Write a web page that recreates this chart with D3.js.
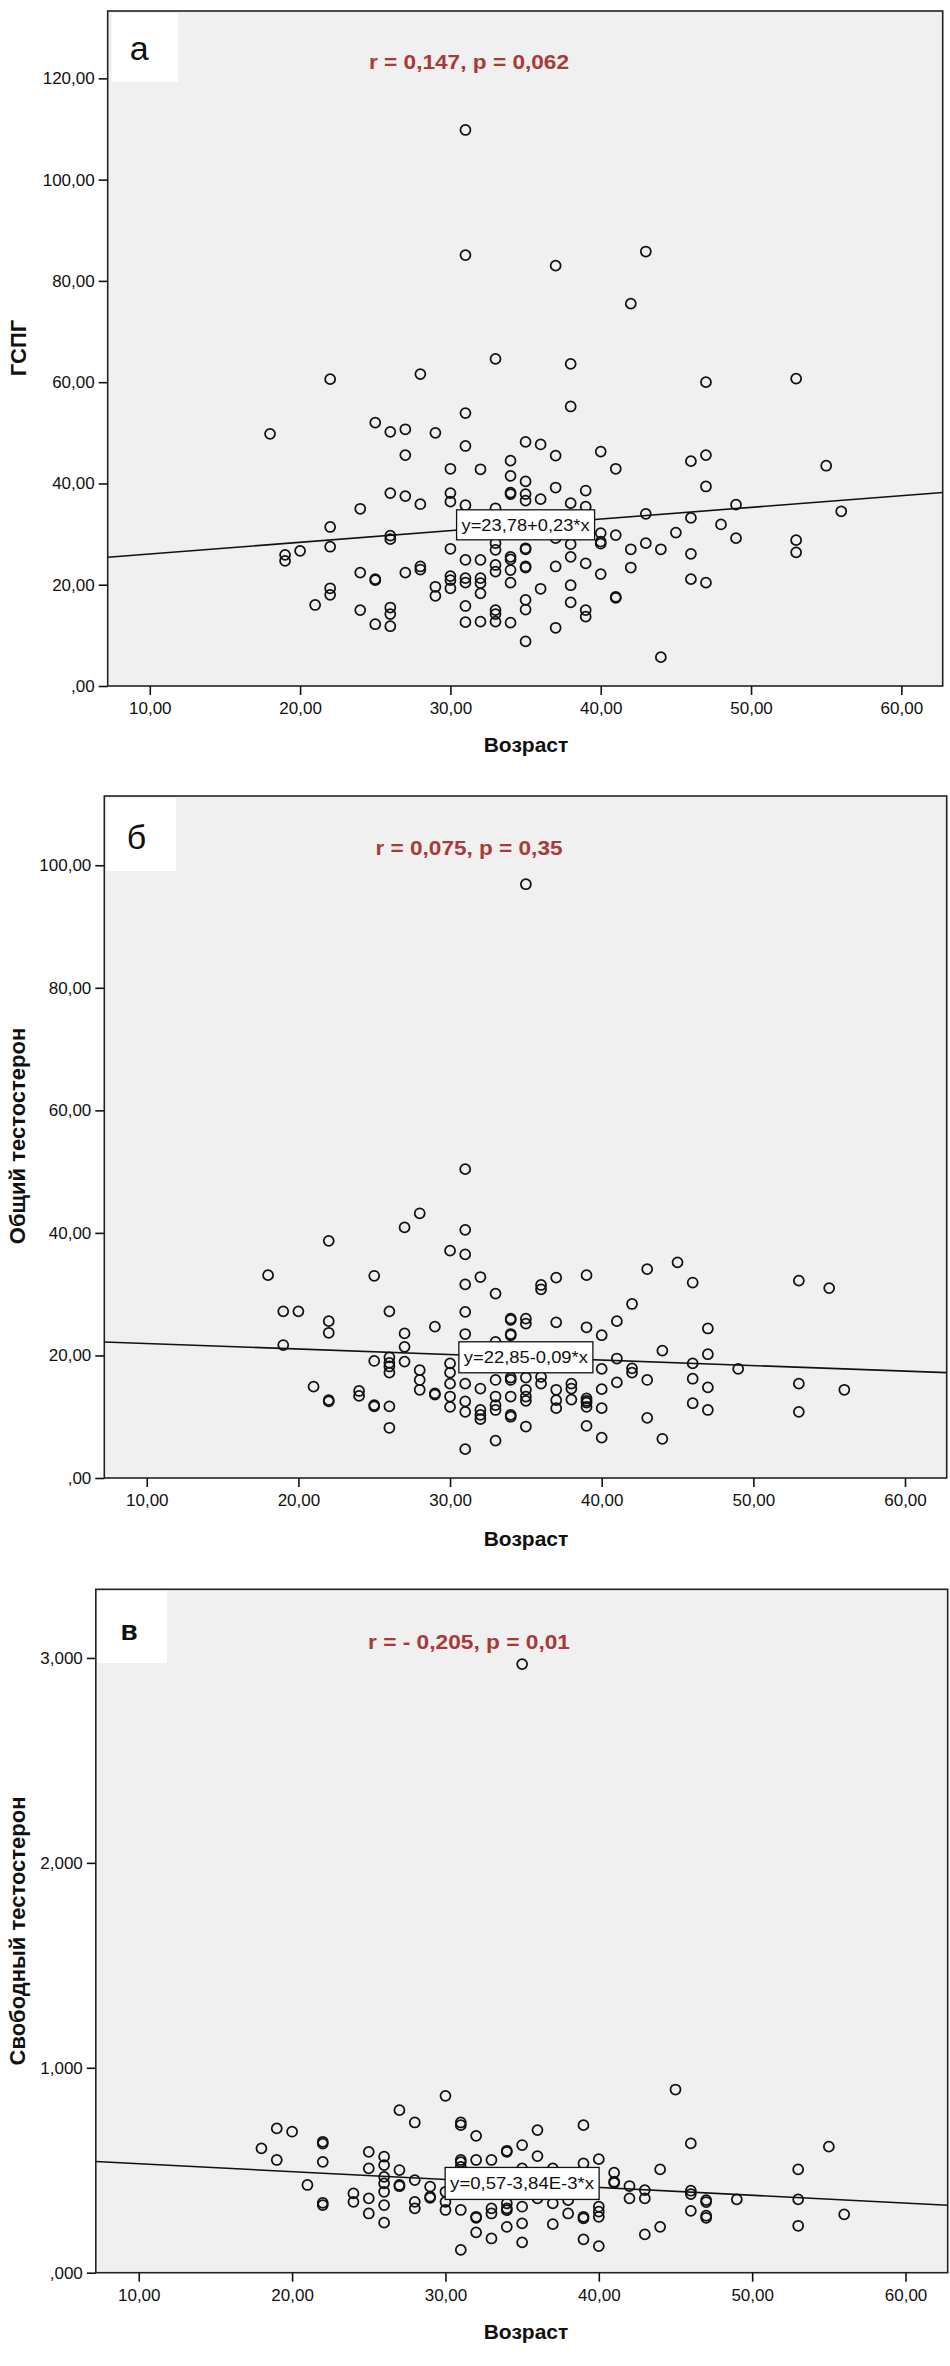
<!DOCTYPE html>
<html><head><meta charset="utf-8">
<script src="https://cdn.jsdelivr.net/npm/d3@7"></script>
<style>body{margin:0;background:#fff}svg{display:block}</style>
</head><body>
<svg id="c" width="950" height="2366"></svg>
<script>
// ---------- data ----------
const xTicks = [10, 20, 30, 40, 50, 60];
const xTickLabels = ["10,00", "20,00", "30,00", "40,00", "50,00", "60,00"];
const xTitle = "Возраст";

const yTicksA = [0, 20, 40, 60, 80, 100, 120];
const yTickLabelsA = [",00", "20,00", "40,00", "60,00", "80,00", "100,00", "120,00"];
const yTicksB = [0, 20, 40, 60, 80, 100];
const yTickLabelsB = [",00", "20,00", "40,00", "60,00", "80,00", "100,00"];
const yTicksC = [0, 1, 2, 3];
const yTickLabelsC = [",000", "1,000", "2,000", "3,000"];

const panelLetters = ["а", "б", "в"];
const yTitles = ["ГСПГ", "Общий тестостерон", "Свободный тестостерон"];
const corrTexts = ["r = 0,147, p = 0,062", "r = 0,075, p = 0,35", "r = - 0,205, p = 0,01"];
const eqTexts = ["y=23,78+0,23*x", "y=22,85-0,09*x", "y=0,57-3,84E-3*x"];
const intercepts = [23.78, 22.85, 0.57];
const slopes = [0.23, -0.09, -0.00384];

// Panel а: age vs ГСПГ
const ageA = [31,31,37,43,42,33,38,22,28,47,53,38,31,18,25,26,27,29,31,27,35,36,37,40,41,46,47,47,55,30,32,34,34,35,34,34,35,35,36,37,39,38,39,26,27,28,30,30,31,33,24,22,26,26,43,46,45,40,40,40,41,42,43,44,46,46,42,40,41,41,44,48,49,49,53,53,56,47,19,19,20,22,21,22,22,24,24,25,25,25,26,26,26,27,28,28,29,29,30,30,30,30,31,31,31,31,31,32,32,32,32,32,33,33,33,33,33,33,33,34,34,34,34,34,35,35,35,35,35,35,35,36,37,37,37,38,38,38,38,39,39,39];
const gspgA = [109.8,85.1,83.0,85.8,75.5,64.6,63.6,60.6,61.6,60.0,60.7,55.2,53.9,49.8,52.0,50.2,50.7,50.0,47.4,45.6,48.2,47.7,45.5,46.3,42.9,44.4,45.6,39.4,43.5,42.9,42.8,44.5,41.5,40.4,38.2,37.9,37.9,36.6,36.9,39.2,38.6,36.1,35.4,38.1,37.5,35.9,38.1,36.4,35.7,35.1,35.0,31.4,29.7,29.0,34.0,33.2,30.3,30.2,28.5,28.1,29.8,27.0,28.2,27.0,26.1,21.1,23.4,22.1,17.6,17.4,5.7,31.9,35.8,29.2,28.8,26.4,34.5,20.4,25.9,24.7,26.7,27.5,16.0,19.3,18.0,22.4,15.0,21.1,20.9,12.2,15.5,14.2,11.8,22.4,23.6,23.0,19.6,17.8,27.1,21.7,20.9,19.3,24.9,21.3,20.4,15.8,12.6,24.9,21.3,20.3,18.3,12.7,28.2,26.9,23.9,22.6,15.0,14.2,12.7,25.5,25.0,22.9,20.4,12.5,27.2,27.0,23.6,23.4,17.0,15.1,8.8,19.2,29.2,23.6,11.5,28.0,25.5,19.9,16.5,24.2,15.0,13.7];

// Panel б: age vs общий тестостерон
const ageB = [35,31,28,27,31,22,30,31,18,25,31,32,33,36,36,37,39,43,45,46,53,55,42,19,20,26,31,22,22,34,34,35,35,37,39,41,29,31,34,34,40,27,27,19,33,44,47,47,41,40,42,42,43,46,46,46,49,47,47,53,53,56,25,26,26,26,26,27,28,28,28,30,30,30,30,30,31,31,31,31,32,32,32,32,33,33,33,33,33,34,34,34,34,34,35,35,35,35,35,36,36,37,37,37,38,38,38,39,39,39,39,39,40,40,40,44,43,21,22,22,24,24,25,25,26,26,29,29,41];
const ttB = [96.9,50.4,43.2,40.9,40.5,38.7,37.1,36.5,33.1,33.0,31.6,32.8,30.1,31.5,30.8,32.7,33.1,34.1,35.2,31.9,32.2,31.0,28.4,27.2,27.2,27.2,27.1,25.6,23.7,26.0,25.8,26.0,25.2,25.4,24.6,25.6,24.7,23.5,23.5,23.3,23.3,23.6,21.4,21.7,22.2,20.8,24.4,20.2,19.5,17.8,17.9,17.2,16.0,18.7,16.2,12.2,17.8,14.8,11.1,15.4,10.8,14.4,19.1,19.7,18.8,18.2,17.2,19.0,17.6,16.0,14.4,18.7,17.2,15.4,13.3,11.6,15.4,12.5,10.8,4.7,14.6,11.1,10.3,9.6,16.0,13.3,11.9,11.1,6.1,16.0,16.4,13.3,10.3,10.0,16.4,14.4,13.3,12.6,8.4,16.5,15.4,14.4,12.7,11.4,15.4,14.6,12.8,13.0,12.6,12.3,11.6,8.5,14.5,11.4,6.6,6.4,9.8,14.9,12.7,12.5,14.2,13.4,11.9,11.7,11.7,8.2,13.8,13.6,15.6];

// Panel в: age vs свободный тестостерон
const ageC = [35,30,45,27,28,31,31,19,20,32,36,39,18,19,22,22,22,21,22,22,25,25,24,24,25,25,26,26,26,26,26,26,26,27,27,27,28,28,28,29,29,29,30,30,30,31,31,31,31,31,32,32,32,32,33,33,33,33,34,34,34,34,34,34,35,35,35,35,35,36,36,37,37,37,38,38,39,39,39,39,40,40,40,40,40,41,41,41,42,42,43,43,43,44,44,46,46,46,46,47,47,47,47,49,53,53,53,55,56];
const ftC = [2.97,0.863,0.894,0.793,0.733,0.733,0.720,0.704,0.688,0.668,0.696,0.720,0.607,0.550,0.639,0.630,0.541,0.428,0.341,0.330,0.590,0.509,0.387,0.346,0.363,0.289,0.566,0.525,0.468,0.436,0.395,0.330,0.244,0.501,0.428,0.422,0.452,0.346,0.314,0.420,0.371,0.365,0.395,0.346,0.306,0.550,0.540,0.517,0.306,0.111,0.550,0.273,0.268,0.197,0.550,0.314,0.289,0.167,0.595,0.590,0.338,0.314,0.305,0.224,0.623,0.509,0.322,0.241,0.148,0.569,0.363,0.509,0.338,0.237,0.354,0.289,0.533,0.273,0.265,0.163,0.554,0.322,0.298,0.273,0.130,0.488,0.444,0.438,0.423,0.363,0.403,0.363,0.187,0.504,0.224,0.631,0.400,0.384,0.302,0.354,0.345,0.278,0.268,0.358,0.504,0.358,0.229,0.615,0.285];

// ---------- layout ----------
const xDomain = [7.2, 62.75];
const panels = [
  {ages: ageA, vals: gspgA, yTicks: yTicksA, yLabels: yTickLabelsA, yMax: 133.3,
   left: 107.7, right: 942.7, top: 11, bottom: 686,
   lbox: [111.7, 13.3, 66.6, 68.4], lpos: [139.3, 48.3], lsize: 34, lweight: "normal",
   corrY: 62, ytX: 18, ytY: 348, xtY: 744, box: [138, 30]},
  {ages: ageB, vals: ttB, yTicks: yTicksB, yLabels: yTickLabelsB, yMax: 111.3,
   left: 104.3, right: 946.7, top: 796, bottom: 1478,
   lbox: [106, 798, 70, 73], lpos: [136.4, 836.5], lsize: 34, lweight: "normal",
   corrY: 848, ytX: 17, ytY: 1136, xtY: 1538, box: [134, 31]},
  {ages: ageC, vals: ftC, yTicks: yTicksC, yLabels: yTickLabelsC, yMax: 3.335,
   left: 95.8, right: 947.7, top: 1589.3, bottom: 2272.7,
   lbox: [97.5, 1591, 69.5, 72], lpos: [129, 1630.4], lsize: 28, lweight: "bold",
   corrY: 1642, ytX: 17, ytY: 1931, xtY: 2331, box: [154, 32]}
];

const svg = d3.select("#c");
const FONT = "'Liberation Sans', Arial, sans-serif";
const NARROW = "'Liberation Sans Narrow', 'Arial Narrow', 'Liberation Sans', Arial, sans-serif";

panels.forEach((p, i) => {
  const x = d3.scaleLinear().domain(xDomain).range([p.left, p.right]);
  const y = d3.scaleLinear().domain([0, p.yMax]).range([p.bottom, p.top]);
  const g = svg.append("g");

  // plot background
  g.append("rect").attr("x", p.left).attr("y", p.top)
    .attr("width", p.right - p.left).attr("height", p.bottom - p.top)
    .attr("fill", "#f0f0f0");

  // panel letter box
  g.append("rect").attr("x", p.lbox[0]).attr("y", p.lbox[1])
    .attr("width", p.lbox[2]).attr("height", p.lbox[3]).attr("fill", "#ffffff");
  g.append("text").attr("x", p.lpos[0]).attr("y", p.lpos[1])
    .attr("text-anchor", "middle").attr("dominant-baseline", "central")
    .attr("font-family", FONT).attr("font-size", p.lsize).attr("font-weight", p.lweight)
    .attr("fill", "#111").text(panelLetters[i]);

  // points
  const pts = p.ages.map((a, k) => [a, p.vals[k]]);
  g.append("g").selectAll("circle").data(pts).join("circle")
    .attr("cx", d => x(d[0])).attr("cy", d => y(d[1])).attr("r", 5)
    .attr("fill", "none").attr("stroke", "#111").attr("stroke-width", 1.75);

  // regression line
  const f = v => intercepts[i] + slopes[i] * v;
  g.append("line").attr("x1", x(xDomain[0])).attr("y1", y(f(xDomain[0])))
    .attr("x2", x(xDomain[1])).attr("y2", y(f(xDomain[1])))
    .attr("stroke", "#111").attr("stroke-width", 1.6);

  // equation box at age 35 on the line
  const bx = x(35), by = y(f(35));
  g.append("rect").attr("x", bx - p.box[0] / 2).attr("y", by - p.box[1] / 2)
    .attr("width", p.box[0]).attr("height", p.box[1])
    .attr("fill", "#fff").attr("stroke", "#111").attr("stroke-width", 1.3);
  g.append("text").attr("x", bx).attr("y", by + 6)
    .attr("text-anchor", "middle").attr("font-family", NARROW).attr("font-size", 17)
    .attr("textLength", p.box[0] - 10).attr("lengthAdjust", "spacingAndGlyphs")
    .attr("fill", "#111").text(eqTexts[i]);

  // correlation text
  g.append("text").attr("x", 469).attr("y", p.corrY + 7)
    .attr("text-anchor", "middle").attr("font-family", NARROW).attr("font-size", 21)
    .attr("font-weight", "bold").attr("fill", "#a83a3a")
    .attr("textLength", i === 1 ? 187 : (i === 0 ? 200 : 202)).attr("lengthAdjust", "spacingAndGlyphs")
    .text(corrTexts[i]);

  // frame
  g.append("rect").attr("x", p.left).attr("y", p.top)
    .attr("width", p.right - p.left).attr("height", p.bottom - p.top)
    .attr("fill", "none").attr("stroke", "#222").attr("stroke-width", 1.6);

  // axes
  const ax = g.append("g").attr("transform", `translate(0,${p.bottom})`)
    .call(d3.axisBottom(x).tickValues(xTicks).tickFormat((d, k) => xTickLabels[k])
      .tickSize(9).tickPadding(7));
  const ay = g.append("g").attr("transform", `translate(${p.left},0)`)
    .call(d3.axisLeft(y).tickValues(p.yTicks).tickFormat((d, k) => p.yLabels[k])
      .tickSize(9).tickPadding(4));
  [ax, ay].forEach(a => {
    a.select(".domain").remove();
    a.selectAll(".tick line").attr("stroke", "#111").attr("stroke-width", 1.6);
    a.selectAll(".tick text").attr("font-family", FONT).attr("font-size", 17).attr("fill", "#111");
  });

  // axis titles
  g.append("text").attr("x", 526).attr("y", p.xtY)
    .attr("text-anchor", "middle").attr("dominant-baseline", "central")
    .attr("font-family", FONT).attr("font-size", 21).attr("font-weight", "bold")
    .attr("fill", "#111").text(xTitle);
  g.append("text").attr("transform", `translate(${p.ytX},${p.ytY}) rotate(-90)`)
    .attr("text-anchor", "middle").attr("dominant-baseline", "central")
    .attr("font-family", FONT).attr("font-size", 22).attr("font-weight", "bold")
    .attr("fill", "#111").text(yTitles[i]);
});
</script>
</body></html>
